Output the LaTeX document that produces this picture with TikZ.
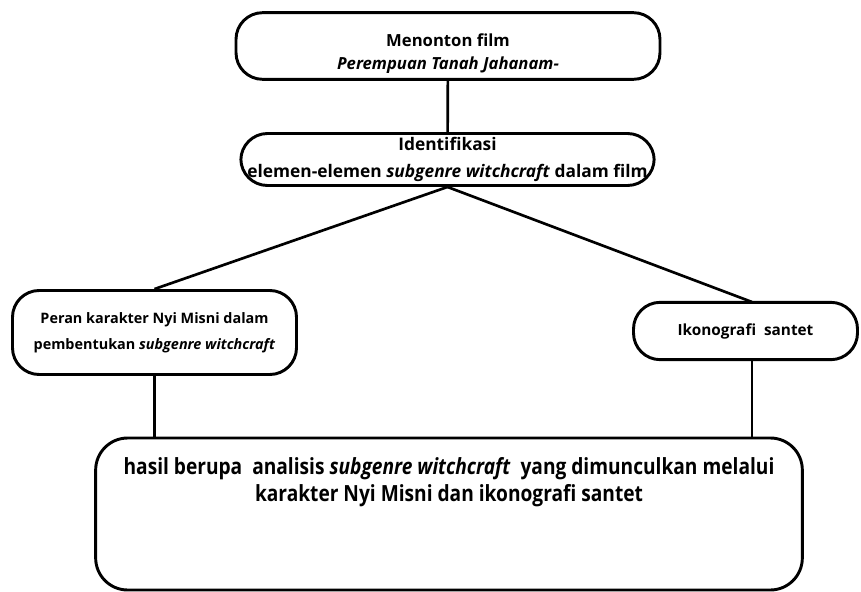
\documentclass[tikz,border=0pt]{standalone}
\usepackage{fontspec}
\setmainfont{Open Sans}
\newfontfamily\narrowfont[FakeStretch=0.86]{Open Sans}

\begin{document}
\begin{tikzpicture}[x=0.75pt, y=-0.75pt,
  nodes = {draw, line width=2.2pt, rounded corners=20pt, align=center,
    font=\bfseries, inner sep=0pt},
  conn/.style = {line width=2pt}
  ]
  \useasboundingbox (0,0) rectangle (861,592);

  \node (film) [minimum width=318pt, minimum height=50pt, text height=38.5pt,
    font=\bfseries\fontsize{12.5}{17}\selectfont]
    at (448,46) {Menonton film\\ \textit{Perempuan Tanah Jahanam-}};
  \node (ident) [minimum width=310pt, minimum height=39pt, font=\bfseries\fontsize{13}{20}\selectfont]
    at (447.5,159.5) {Identifikasi\\ elemen-elemen \textit{subgenre witchcraft} dalam film};
  \node (peran) [minimum width=213pt, minimum height=63pt, font=\bfseries\fontsize{10.8}{19.5}\selectfont]
    at (154.5,332.5) {Peran karakter Nyi Misni dalam\\ pembentukan \textit{subgenre witchcraft}};
  \node (ikon) [minimum width=168pt, minimum height=43pt, font=\bfseries\fontsize{11.5}{14}\selectfont]
    at (745.5,331) {Ikonografi\ \ santet};
  \node (hasil) [minimum width=530pt, minimum height=114pt, rounded corners=24pt,
    text depth=52pt, font=\narrowfont\bfseries\fontsize{16.7}{20.5}\selectfont]
    at (449,514) {hasil berupa\ \ analisis \textit{subgenre witchcraft}\ \ yang dimunculkan melalui\\
    karakter Nyi Misni dan ikonografi santet};

  \draw [conn] (film) -- (ident);
  \draw [conn] (ident.south) -- (peran.north);
  \draw [conn] (ident.south) -- (752,302) coordinate (ikontop);
  \draw [conn] (peran.south) -- (peran.south |- hasil.north);
  \draw [conn] (752,360) -- (752,437);
\end{tikzpicture}
\end{document}
